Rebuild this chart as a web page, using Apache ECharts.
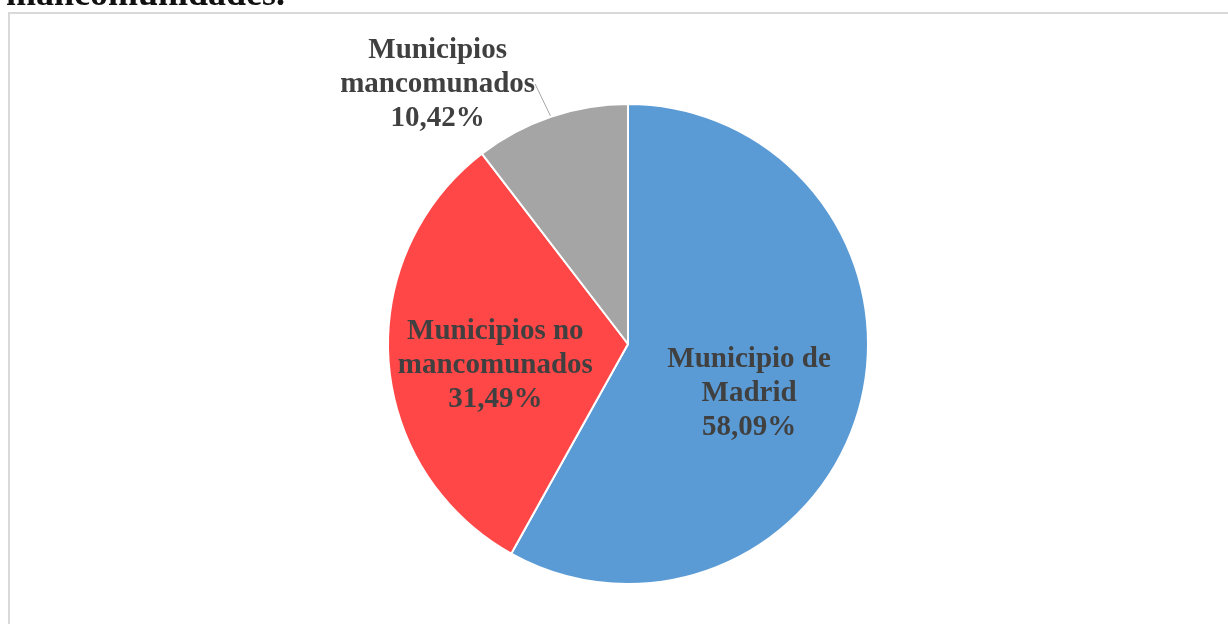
<!DOCTYPE html>
<html>
<head>
<meta charset="utf-8">
<script src="https://cdn.jsdelivr.net/npm/echarts@6/dist/echarts.min.js"></script>
<style>
html,body{margin:0;padding:0;background:#fff;}
#main{width:1228px;height:624px;}
</style>
</head>
<body>
<div id="main"></div>
<script>
var categories = ['Municipio de\nMadrid', 'Municipios no\nmancomunados', 'Municipios\nmancomunados'];
var values = [58.09, 31.49, 10.42];
var colors = ['#5B9BD5', '#FF4747', '#A5A5A5'];
var labelPositions = ['inner', 'inner', 'outside'];

var myChart = echarts.init(document.getElementById('main'));

var pieData = [];
for (var i = 0; i < values.length; i++) {
	pieData.push({
		name : categories[i],
		value : values[i],
		itemStyle : { color : colors[i] },
		label : { position : labelPositions[i] }
	});
}

// small nudges so labels sit where the original put them
var labelShift = [ [ 2, 19 ], [ -10, 13 ], [ 0, 0 ] ];

var option = {
	backgroundColor : '#fff',
	animation : false,
	graphic : [ {
		type : 'rect',
		shape : { x : 9, y : 13, width : 1400, height : 800 },
		style : { fill : 'none', stroke : '#d9d9d9', lineWidth : 2 }
	}, {
		type : 'text',
		x : 6,
		y : 14,
		style : {
			text : 'mancomunidades.',
			font : 'bold 36px "Liberation Serif"',
			fill : '#111',
			verticalAlign : 'bottom'
		}
	} ],
	series : [ {
		type : 'pie',
		center : [ 628, 344 ],
		radius : 240,
		startAngle : 90,
		clockwise : true,
		itemStyle : { borderColor : '#fff', borderWidth : 2 },
		label : {
			show : true,
			fontFamily : 'Liberation Serif',
			fontWeight : 'bold',
			fontSize : 29,
			lineHeight : 34,
			color : '#404040',
			formatter : function(p) {
				return p.name + '\n' + p.value.toFixed(2).replace('.', ',') + '%';
			}
		},
		labelLine : {
			show : true,
			length : 24,
			length2 : 0,
			lineStyle : { color : '#a6a6a6', width : 1 }
		},
		labelLayout : function(params) {
			var r = params.labelRect;
			if (params.dataIndex === 2) {
				return {
					x : r.x + r.width / 2 - 3,
					y : r.y + r.height / 2 - 10,
					align : 'center',
					verticalAlign : 'middle'
				};
			}
			return { dx : labelShift[params.dataIndex][0], dy : labelShift[params.dataIndex][1] };
		},
		data : pieData
	} ]
};
myChart.setOption(option);
</script>
</body>
</html>
